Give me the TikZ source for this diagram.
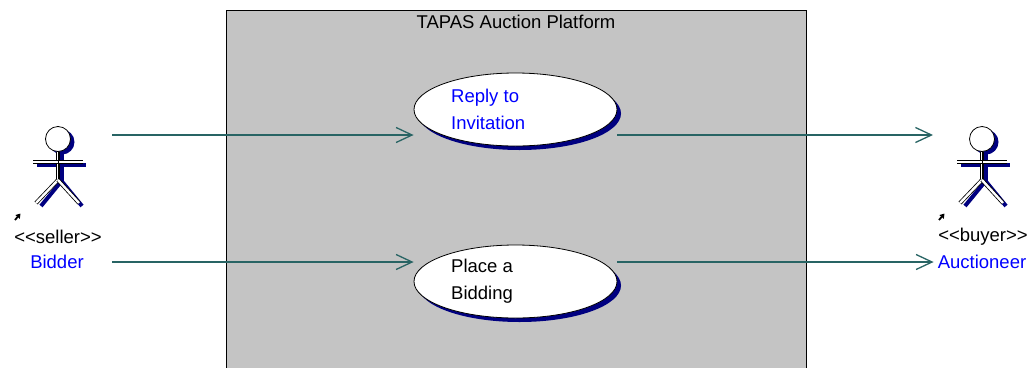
\documentclass[tikz,border=0pt]{standalone}
\usepackage{fontspec}
\setmainfont{Liberation Sans}
\usetikzlibrary{shapes.geometric,arrows.meta,shadows}
\definecolor{frameg}{RGB}{196,196,196}
\definecolor{conn}{RGB}{40,100,100}
\definecolor{shad}{RGB}{0,0,128}
\definecolor{ublue}{RGB}{0,0,255}
\tikzset{
  txt/.style={font=\fontsize{18.5bp}{27bp}\selectfont, inner sep=0pt},
  usecase/.style={ellipse, draw=black, line width=0.8bp, fill=white, minimum width=203bp, minimum height=73bp, inner sep=0pt,
    drop shadow={shadow xshift=4bp, shadow yshift=-4bp, fill=shad, opacity=1}},
  assoc/.style={draw=conn, line width=1.1bp, -{Straight Barb[length=16bp, width=15bp, line width=1.3bp]}},
  limb/.style={draw=black, double=white, double distance=2.4bp, line width=0.8bp, line cap=butt},
  limbshadow/.style={draw=shad, line width=4bp},
}
\newcommand{\actorfig}[2]{%
  \begin{scope}[shift={(#1,#2)}]
    % shadow
    \fill[shad] (4,3) circle[radius=12.5bp];
    \draw[limbshadow] (3.5,13.5) -- (3.5,45);
    \draw[limbshadow] (-21,26) -- (28,26);
    \draw[limbshadow] (3.5,42) -- (-17,67);
    \draw[limbshadow] (3.5,42) -- (24,67);
    % figure
    \draw[limb] (0,12.5) -- (0,42);
    \draw[limb] (-25,23) -- (25,23);
    \draw[limb] (0,41) -- (-22,64);
    \draw[limb] (0,41) -- (21,64);
    \draw[black, line width=0.8bp, fill=white] (0,0) circle[radius=12.5bp];
    \draw[black, line width=0.8bp] (0,12.5) -- (0,40);
    \draw[-{Triangle[length=4.5bp,width=5.5bp]}, line width=1.8bp] (-43,81) -- (-37.5,74.5);
  \end{scope}}
\begin{document}
\begin{tikzpicture}[x=1bp, y=-1bp]
\useasboundingbox (0,0) rectangle (1031,367);
% system boundary
\draw[fill=frameg, line width=1bp] (226,10) rectangle (806,380);
\node[txt] (title) at (516,22) {TAPAS Auction Platform};
% use cases
\node[usecase] (uc1) at (515.5,109.5) {};
\node[txt, anchor=west, align=left, text=ublue] (uc1t) at (451,109.5) {Reply to\\Invitation};
\node[usecase] (uc2) at (515.5,281.5) {};
\node[txt, anchor=west, align=left] (uc2t) at (451,281.5) {Place a\\Bidding};
% actors
\actorfig{58}{139}
\node[txt] (st1) at (58,237) {<{}<seller>{}>};
\node[txt, text=ublue] (bidder) at (57,262) {Bidder};
\actorfig{982}{139}
\node[txt] (st2) at (983,237) {<{}<buyer>{}>};
\node[txt, text=ublue, inner sep=4bp] (auct) at (982,262) {Auctioneer};
% connectors
\coordinate (b1) at (112,135);
\coordinate (b2) at (112,262);
\coordinate (e1) at (933,135);
\draw[assoc] (b1) -- (uc1.west |- b1);
\draw[assoc] (b2) -- (uc2.west |- b2);
\draw[assoc] (uc1.east |- e1) -- (e1);
\draw[assoc] (uc2.east |- auct) -- (auct.west);
\end{tikzpicture}
\end{document}
